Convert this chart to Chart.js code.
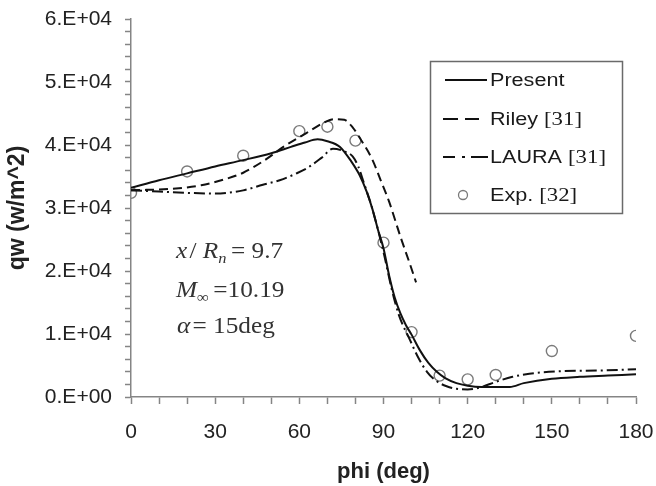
<!DOCTYPE html>
<html lang="en">
<head>
<meta charset="UTF-8">
<title>qw vs phi</title>
<script src="https://cdn.jsdelivr.net/npm/chart.js"></script>
<style>
    html, body {
        margin: 0;
        padding: 0;
        background: #fff;
    }
    .chart-box {
        position: relative;
        width: 656px;
        height: 486px;
    }
</style>
</head>
<body>
<div class="chart-box"><canvas id="qw-chart"></canvas></div>
<script>
// Present
const phiPresent = [0, 10, 20, 30, 40, 50, 57, 62, 66.5, 70, 74.5, 78.5, 81.5, 84, 86, 88, 90, 92, 94, 96, 98, 100, 103, 106, 109, 112, 116, 120, 125, 135, 140, 150, 160, 170, 180];
const qwPresent = [33200, 34400, 35500, 36600, 37600, 38700, 39700, 40400, 40900, 40600, 39700, 37400, 35200, 32600, 29900, 26600, 23600, 19300, 15800, 13300, 11400, 9900, 7400, 5400, 4000, 3000, 2200, 1800, 1600, 1600, 2200, 2900, 3200, 3400, 3600];

// Riley [31]
const phiRiley = [0, 16, 25, 33, 40, 47, 55, 62.5, 69, 72.5, 76, 79, 82, 86, 89, 92, 96, 99.5, 101.6];
const qwRiley = [32800, 33100, 33600, 34500, 35600, 37400, 39900, 41900, 43600, 44100, 44000, 42800, 40800, 37700, 34400, 31000, 25500, 21000, 18200];

// LAURA [31]
const phiLaura = [0, 10, 20, 30, 40, 47, 53, 59, 63, 68, 72, 76.5, 79, 81, 83, 86, 90, 93, 95.5, 99.5, 102, 105.5, 109, 112.5, 116, 120, 125, 130, 136, 142, 154, 166, 180];
const qwLaura = [32800, 32600, 32400, 32300, 32800, 33700, 34400, 35500, 36400, 38000, 39400, 38900, 38200, 36600, 34000, 29900, 23000, 17000, 13000, 9000, 6600, 4000, 2500, 1700, 1300, 1200, 1600, 2400, 3200, 3700, 4100, 4200, 4400];

// Exp. [32]
const phiExp = [0, 20, 40, 60, 70, 80, 90, 100, 110, 120, 130, 150, 180];
const qwExp = [32400, 35800, 38300, 42200, 42900, 40700, 24500, 10300, 3400, 2800, 3500, 7300, 9700];

// tick labels
const xTickLabels = [0, 30, 60, 90, 120, 150, 180];
const yTickValues = [0, 10000, 20000, 30000, 40000, 50000, 60000];
const yTickLabels = ['0.E+00', '1.E+04', '2.E+04', '3.E+04', '4.E+04', '5.E+04', '6.E+04'];

function toPoints(xs, ys) {
    return xs.map((x, i) => ({ x: x, y: ys[i] }));
}

const INK = '#111';
const AXIS = '#858585';
const FONT = '"Liberation Sans", Arial, sans-serif';

// draw a row of text pieces with mixed fonts, slightly widened
function drawRuns(ctx, x, y, runs, sx) {
    ctx.save();
    ctx.translate(x, y);
    ctx.scale(sx, 1);
    let cx = 0;
    runs.forEach(r => {
        ctx.font = r.f;
        ctx.fillText(r.t, cx, r.dy || 0);
        cx += ctx.measureText(r.t).width + (r.gap || 0);
    });
    ctx.restore();
}

const SANS = '18px ' + FONT;
const SERIF = '19px "Liberation Serif", "Times New Roman", serif';

const boxLegend = {
    id: 'boxLegend',
    afterDatasetsDraw(chart) {
        const ctx = chart.ctx;
        const ds = chart.data.datasets;
        ctx.save();
        ctx.fillStyle = '#fff';
        ctx.fillRect(430.5, 61.5, 192, 152);
        ctx.strokeStyle = '#6a6a6a';
        ctx.lineWidth = 1.5;
        ctx.strokeRect(430.5, 61.5, 192, 152);

        // legend samples use their own short patterns
        const rows = [
            { y: 80, ds: ds[0], x0: 445, x1: 487, dash: [], runs: [{ t: 'Present', f: SANS }] },
            { y: 119, ds: ds[1], x0: 443, x1: 479, dash: [15, 7, 14, 100], runs: [{ t: 'Riley ', f: SANS }, { t: '[31]', f: SERIF }] },
            { y: 157, ds: ds[2], x0: 443, x1: 488, dash: [12, 7, 3, 6, 17, 100], runs: [{ t: 'LAURA ', f: SANS }, { t: '[31]', f: SERIF }] },
            { y: 195, ds: ds[3], runs: [{ t: 'Exp. ', f: SANS }, { t: '[32]', f: SERIF }] }
        ];
        rows.forEach(r => {
            ctx.save();
            ctx.strokeStyle = r.ds.borderColor;
            if (r.x0 !== undefined) {
                ctx.lineWidth = r.ds.borderWidth;
                ctx.setLineDash(r.dash);
                ctx.beginPath();
                ctx.moveTo(r.x0, r.y);
                ctx.lineTo(r.x1, r.y);
                ctx.stroke();
            } else {
                ctx.lineWidth = 1.3;
                ctx.beginPath();
                ctx.arc(463, r.y, 4.5, 0, Math.PI * 2);
                ctx.stroke();
            }
            ctx.restore();
            ctx.fillStyle = '#1a1a1a';
            ctx.textBaseline = 'middle';
            drawRuns(ctx, 490, r.y + 1, r.runs, 1.2);
        });

        // case parameters
        const IT = 'italic 23px "Liberation Serif", "Times New Roman", serif';
        const RM = '23px "Liberation Serif", "Times New Roman", serif';
        const SUB = 'italic 15px "Liberation Serif", "Times New Roman", serif';
        ctx.fillStyle = '#333';
        ctx.textBaseline = 'alphabetic';
        drawRuns(ctx, 176, 258, [
            { t: 'x', f: IT, gap: 2 }, { t: '/ ', f: RM }, { t: 'R', f: IT },
            { t: 'n', f: SUB, dy: 5, gap: 4 }, { t: '= 9.7', f: RM }
        ], 1.1);
        drawRuns(ctx, 176, 297, [
            { t: 'M', f: IT }, { t: '\u221E', f: '15px "Liberation Serif", serif', dy: 5, gap: 4 },
            { t: '=10.19', f: RM }
        ], 1.1);
        drawRuns(ctx, 177, 333, [
            { t: '\u03B1', f: IT, gap: 2 }, { t: '= 15deg', f: RM }
        ], 1.1);
        ctx.restore();
    }
};

new Chart(document.getElementById('qw-chart'), {
    type: 'line',
    data: {
        datasets: [
            {
                label: 'Present',
                data: toPoints(phiPresent, qwPresent),
                borderColor: INK,
                borderWidth: 2,
                pointRadius: 0,
                cubicInterpolationMode: 'monotone'
            },
            {
                label: 'Riley [31]',
                data: toPoints(phiRiley, qwRiley),
                borderColor: INK,
                borderWidth: 2,
                borderDash: [9, 5],
                pointRadius: 0,
                cubicInterpolationMode: 'monotone'
            },
            {
                label: 'LAURA [31]',
                data: toPoints(phiLaura, qwLaura),
                borderColor: INK,
                borderWidth: 2,
                borderDash: [11, 4, 2, 4],
                pointRadius: 0,
                cubicInterpolationMode: 'monotone'
            },
            {
                label: 'Exp. [32]',
                data: toPoints(phiExp, qwExp),
                showLine: false,
                borderColor: '#7a7a7a',
                backgroundColor: 'rgba(0,0,0,0)',
                borderWidth: 1.4,
                pointRadius: 5.5,
                pointStyle: 'circle'
            }
        ]
    },
    options: {
        responsive: true,
        maintainAspectRatio: false,
        animation: false,
        layout: { padding: { top: 19, right: 20, left: 0, bottom: 0 } },
        plugins: {
            legend: { display: false },
            tooltip: { enabled: false }
        },
        scales: {
            x: {
                type: 'linear',
                min: 0,
                max: 180,
                afterFit: s => { s.height = 89; s.paddingLeft = 0; s.paddingRight = 0; },
                border: { display: true, color: AXIS, width: 1.5 },
                grid: { drawOnChartArea: false, drawTicks: true, tickLength: 7, tickColor: AXIS, tickWidth: 1.5 },
                ticks: {
                    stepSize: 10,
                    autoSkip: false,
                    maxRotation: 0,
                    padding: 16,
                    color: '#222',
                    font: { family: FONT, size: 21 },
                    callback: v => xTickLabels.includes(v) ? String(v) : ''
                },
                title: {
                    display: true,
                    text: 'phi (deg)',
                    color: '#222',
                    font: { family: FONT, size: 22, weight: 'bold' },
                    padding: { bottom: 1 }
                }
            },
            y: {
                min: 0,
                max: 60000,
                afterFit: s => { s.width = 131; s.paddingTop = 0; s.paddingBottom = 0; },
                border: { display: true, color: AXIS, width: 1.5 },
                grid: { drawOnChartArea: false, drawTicks: true, tickLength: 6, tickColor: AXIS, tickWidth: 1.5 },
                ticks: {
                    stepSize: 2000,
                    autoSkip: false,
                    padding: 13,
                    color: '#222',
                    font: { family: FONT, size: 21 },
                    callback: v => {
                        const i = yTickValues.indexOf(v);
                        return i >= 0 ? yTickLabels[i] : '';
                    }
                },
                title: {
                    display: true,
                    text: 'qw (w/m^2)',
                    color: '#222',
                    font: { family: FONT, size: 23, weight: 'bold' },
                    padding: { top: 4 }
                }
            }
        }
    },
    plugins: [boxLegend]
});
</script>
</body>
</html>
